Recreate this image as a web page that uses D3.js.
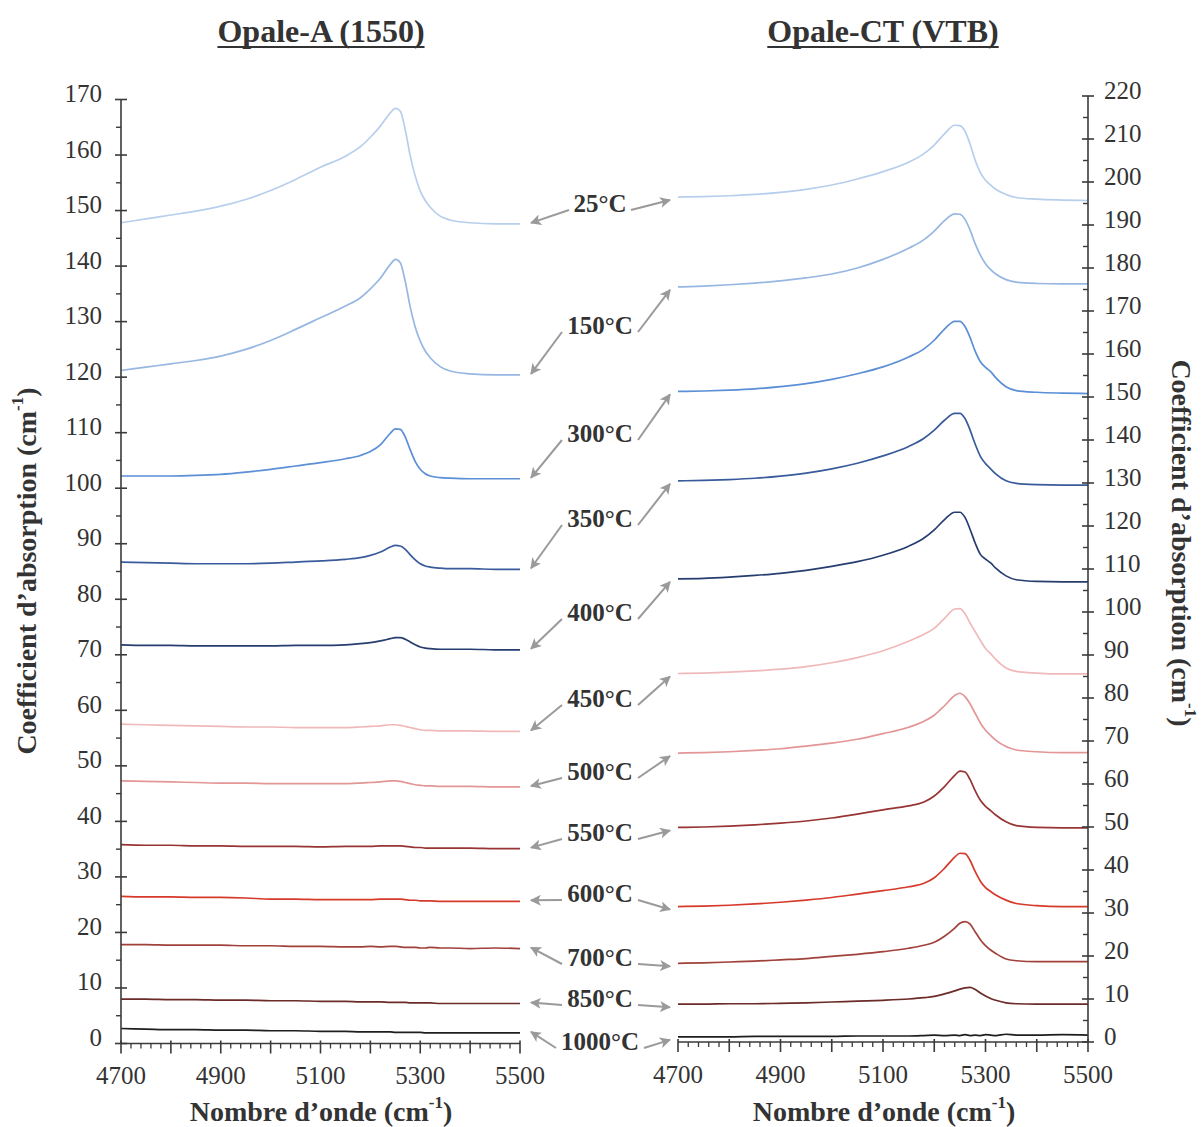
<!DOCTYPE html>
<html><head><meta charset="utf-8">
<script src="https://cdn.jsdelivr.net/npm/d3@7"></script>
<style>html,body{margin:0;padding:0;background:#fff;}svg{display:block;}</style>
</head><body>
<svg id="chart" width="1204" height="1127"></svg>
<script>
// ---------- DATA ----------
const wavenumbers = [4700,4750,4800,4850,4900,4950,5000,5050,5100,5150,5180,5200,5220,5240,5250,5260,5270,5280,5290,5300,5310,5320,5340,5360,5400,5450,5500];
const temperatures = ["25°C","150°C","300°C","350°C","400°C","450°C","500°C","550°C","600°C","700°C","850°C","1000°C"];
const xTickLabels = [4700,4900,5100,5300,5500];
const leftYTicks = d3.range(0,171,10);
const rightYTicks = d3.range(0,221,10);

// Opale-A (1550)
const a25  = [147.8,148.5,149.2,149.9,150.8,152.0,153.6,155.6,157.8,159.8,161.5,163.2,165.2,167.6,168.4,167.9,164.5,159.8,156.2,153.5,151.8,150.6,149.0,148.3,147.8,147.6,147.6];
const a150 = [121.2,121.8,122.4,123.0,123.8,125.0,126.6,128.6,130.7,132.8,134.3,135.9,137.8,140.3,141.2,140.6,137.2,132.6,129.0,126.5,124.7,123.5,121.9,121.1,120.6,120.4,120.4];
const a300 = [102.2,102.2,102.2,102.3,102.5,102.9,103.4,104.0,104.6,105.3,105.9,106.6,107.8,109.9,110.7,110.6,109.2,106.9,104.8,103.4,102.6,102.2,101.9,101.8,101.7,101.7,101.7];
const a350 = [86.7,86.6,86.5,86.4,86.4,86.4,86.5,86.7,86.9,87.2,87.5,87.9,88.5,89.4,89.7,89.6,89.0,88.0,87.1,86.4,86.0,85.8,85.6,85.5,85.5,85.4,85.4];
const a400 = [71.8,71.7,71.7,71.6,71.6,71.6,71.6,71.7,71.7,71.8,72.0,72.2,72.5,72.9,73.1,73.1,72.8,72.3,71.8,71.4,71.2,71.1,71.0,71.0,71.0,70.9,70.9];
const a450 = [57.5,57.4,57.3,57.2,57.1,57.0,57.0,56.9,56.9,56.9,57.0,57.1,57.2,57.4,57.4,57.3,57.1,56.9,56.7,56.5,56.4,56.4,56.3,56.3,56.3,56.2,56.2];
const a500 = [47.3,47.2,47.1,47.0,46.9,46.9,46.8,46.8,46.8,46.8,46.9,47.0,47.1,47.3,47.3,47.2,47.0,46.8,46.6,46.5,46.4,46.4,46.3,46.3,46.3,46.2,46.2];
const a550 = [35.8,35.7,35.7,35.6,35.6,35.5,35.5,35.5,35.4,35.5,35.5,35.5,35.6,35.6,35.6,35.6,35.5,35.4,35.3,35.3,35.2,35.2,35.2,35.2,35.2,35.1,35.1];
const a600 = [26.5,26.4,26.4,26.3,26.3,26.2,26.0,26.0,25.9,25.9,25.9,25.9,26.0,26.0,26.0,26.0,25.9,25.8,25.8,25.7,25.7,25.7,25.6,25.6,25.6,25.6,25.6];
const a700 = [17.8,17.8,17.7,17.7,17.7,17.6,17.6,17.5,17.5,17.4,17.4,17.5,17.4,17.5,17.5,17.4,17.3,17.3,17.3,17.2,17.2,17.3,17.2,17.2,17.1,17.2,17.1];
const a850 = [8.0,8.0,7.9,7.9,7.8,7.8,7.7,7.7,7.6,7.6,7.5,7.5,7.5,7.4,7.4,7.4,7.4,7.3,7.3,7.3,7.3,7.3,7.2,7.2,7.2,7.2,7.2];
const a1000= [2.7,2.6,2.5,2.5,2.4,2.4,2.3,2.3,2.2,2.2,2.1,2.1,2.1,2.1,2.0,2.0,2.0,2.0,2.0,2.0,1.9,1.9,1.9,1.9,1.9,1.9,1.9];

// Opale-CT (VTB)
const c25  = [196.5,196.6,196.8,197.1,197.6,198.3,199.3,200.7,202.4,204.6,206.6,208.6,211.2,213.2,213.1,211.8,208.8,205.0,202.2,200.4,199.3,198.3,197.1,196.4,196.0,195.8,195.7];
const c150 = [175.6,175.8,176.1,176.5,177.0,177.7,178.6,180.0,182.0,184.6,186.6,188.6,191.0,192.6,192.5,191.3,188.8,185.6,183.0,181.0,179.6,178.6,177.3,176.7,176.4,176.3,176.3];
const c300 = [151.3,151.4,151.6,151.9,152.4,153.1,154.1,155.4,157.0,159.3,161.2,163.2,165.8,167.6,167.6,166.4,163.8,160.6,158.2,156.9,155.9,154.5,152.4,151.5,151.1,150.9,150.8];
const c350 = [130.5,130.6,130.8,131.1,131.6,132.3,133.3,134.6,136.3,138.5,140.4,142.3,144.6,146.2,146.2,145.0,142.3,139.0,136.2,134.5,133.3,132.1,130.5,129.9,129.6,129.5,129.5];
const c400 = [107.7,107.8,108.1,108.5,109.0,109.7,110.6,111.7,113.2,115.3,117.2,119.1,121.5,123.2,123.2,122.0,119.2,116.0,113.4,112.3,111.4,110.2,108.4,107.5,107.1,107.0,107.0];
const c450 = [85.7,85.8,86.0,86.3,86.7,87.3,88.2,89.4,91.0,93.2,94.8,96.2,98.5,100.7,100.8,99.6,97.4,95.4,93.4,91.5,90.3,89.0,87.0,86.2,85.8,85.6,85.6];
const c500 = [67.2,67.3,67.5,67.8,68.2,68.8,69.5,70.4,71.7,73.2,74.6,76.0,78.2,80.6,81.1,80.3,78.6,76.4,74.2,72.5,71.3,70.2,68.7,67.9,67.5,67.3,67.3];
const c550 = [49.9,50.0,50.2,50.5,50.9,51.4,52.1,53.0,54.0,54.9,55.8,57.2,59.4,62.0,63.0,62.8,61.0,58.4,56.2,54.8,53.8,52.8,51.2,50.3,49.9,49.8,49.8];
const c600 = [31.5,31.6,31.8,32.1,32.5,33.0,33.6,34.4,35.2,36.1,36.9,38.2,40.4,43.0,43.9,43.8,42.2,39.6,37.4,35.9,35.0,34.2,33.0,32.2,31.7,31.5,31.5];
const c700 = [18.3,18.4,18.6,18.8,19.1,19.4,19.9,20.4,21.0,21.8,22.5,23.2,24.6,26.5,27.6,28.0,27.4,25.6,23.8,22.4,21.4,20.6,19.3,18.9,18.7,18.7,18.7];
const c850 = [8.8,8.8,8.9,8.9,9.0,9.1,9.3,9.5,9.7,10.0,10.3,10.6,11.2,11.9,12.3,12.6,12.7,12.2,11.4,10.7,10.1,9.7,9.1,8.9,8.8,8.8,8.8];
const c1000= [1.2,1.2,1.2,1.3,1.3,1.3,1.3,1.4,1.4,1.4,1.5,1.6,1.5,1.6,1.5,1.7,1.5,1.6,1.5,1.7,1.6,1.5,1.8,1.6,1.6,1.7,1.6];

const colors = ["#b7cfec","#97b7e2","#5b8fd6","#3a5b9b","#263d70","#f0b9b9","#e39696","#983434","#d63a2b","#a1413b","#6b2b29","#1e1e1e"];

const seriesA = [a25,a150,a300,a350,a400,a450,a500,a550,a600,a700,a850,a1000];
const seriesC = [c25,c150,c300,c350,c400,c450,c500,c550,c600,c700,c850,c1000];

// ---------- LAYOUT ----------
const svg = d3.select("#chart");
const serif = "'Liberation Serif','Times New Roman',serif";
const axisColor = "#3a3a3a";

const xL = d3.scaleLinear().domain([4700,5500]).range([121,520]);
const yL = d3.scaleLinear().domain([0,170]).range([1043.5,99.5]);
const xR = d3.scaleLinear().domain([4700,5500]).range([678,1088]);
const yR = d3.scaleLinear().domain([0,220]).range([1042,96]);

// ---------- CURVES ----------
function drawSeries(list, xs, ys) {
  const line = d3.line().x((d,i)=>xs(wavenumbers[i])).y(d=>ys(d)).curve(d3.curveMonotoneX);
  svg.append("g").selectAll("path").data(list).join("path")
    .attr("d", d=>line(d)).attr("fill","none")
    .attr("stroke",(d,i)=>colors[i]).attr("stroke-width",1.7).attr("stroke-linejoin","round");
}
drawSeries(seriesA, xL, yL);
drawSeries(seriesC, xR, yR);

// ---------- AXES ----------
function drawYAxis(ys, xPos, ticks, maxV, side) {
  const g = svg.append("g");
  g.append("line").attr("x1",xPos).attr("x2",xPos).attr("y1",ys(maxV)).attr("y2",ys(0))
    .attr("stroke",axisColor).attr("stroke-width",1.6);
  g.selectAll(".maj").data(ticks).join("line")
    .attr("x1",xPos-6).attr("x2",xPos+6).attr("y1",d=>ys(d)).attr("y2",d=>ys(d))
    .attr("stroke",axisColor).attr("stroke-width",1.6);
  const minors = d3.range(5,maxV,10);
  g.selectAll(".min").data(minors).join("line")
    .attr("x1",xPos-5).attr("x2",xPos).attr("y1",d=>ys(d)).attr("y2",d=>ys(d))
    .attr("stroke",axisColor).attr("stroke-width",1.4);
  g.selectAll("text").data(ticks).join("text")
    .attr("x", side==="left" ? xPos-19 : xPos+16)
    .attr("y", d=>ys(d)-6)
    .attr("dominant-baseline","central")
    .attr("text-anchor", side==="left" ? "end" : "start")
    .attr("font-family",serif).attr("font-size",25).attr("fill","#333")
    .text(d=>d);
}
drawYAxis(yL, 121, leftYTicks, 170, "left");
drawYAxis(yR, 1088, rightYTicks, 220, "right");

function drawXAxis(xs, yPos) {
  const g = svg.append("g");
  g.append("line").attr("x1",xs(4700)).attr("x2",xs(5500)).attr("y1",yPos).attr("y2",yPos)
    .attr("stroke",axisColor).attr("stroke-width",1.6);
  g.selectAll(".maj").data(d3.range(4700,5501,100)).join("line")
    .attr("x1",d=>xs(d)).attr("x2",d=>xs(d)).attr("y1",yPos-3).attr("y2",yPos+10)
    .attr("stroke",axisColor).attr("stroke-width",1.6);
  g.selectAll(".min").data(d3.range(4720,5500,20).filter(d=>d%100!==0)).join("line")
    .attr("x1",d=>xs(d)).attr("x2",d=>xs(d)).attr("y1",yPos).attr("y2",yPos+5)
    .attr("stroke",axisColor).attr("stroke-width",1.3);
  g.selectAll("text").data(xTickLabels).join("text")
    .attr("x",d=>xs(d)).attr("y",yPos+32).attr("dominant-baseline","central")
    .attr("text-anchor","middle").attr("font-family",serif).attr("font-size",25).attr("fill","#333")
    .text(d=>d);
}
drawXAxis(xL, 1043.5);
drawXAxis(xR, 1042);

// ---------- TITLES ----------
function title(text, cx, cy) {
  const t = svg.append("text").attr("x",cx).attr("y",cy).attr("text-anchor","middle")
    .attr("dominant-baseline","central").attr("font-family",serif).attr("font-weight","bold")
    .attr("font-size",32).attr("fill","#333").text(text);
  const w = t.node().getComputedTextLength();
  svg.append("line").attr("x1",cx-w/2).attr("x2",cx+w/2).attr("y1",cy+16).attr("y2",cy+16)
    .attr("stroke","#333").attr("stroke-width",2.2);
}
title("Opale-A (1550)", 321, 31);
title("Opale-CT (VTB)", 883, 31);

function unitTitle(g, base) {
  const t = g.append("text").attr("font-family",serif).attr("font-weight","bold")
    .attr("font-size",28).attr("fill","#333").attr("text-anchor","middle")
    .attr("dominant-baseline","central");
  t.append("tspan").text(base + " (cm");
  t.append("tspan").attr("font-size",17).attr("dy",-9).text("-1");
  t.append("tspan").attr("dy",9).text(")");
  return t;
}
unitTitle(svg.append("g").attr("transform","translate(321,1111)"), "Nombre d\u2019onde");
unitTitle(svg.append("g").attr("transform","translate(884,1111)"), "Nombre d\u2019onde");
unitTitle(svg.append("g").attr("transform","translate(26,571) rotate(-90)"), "Coefficient d\u2019absorption");
unitTitle(svg.append("g").attr("transform","translate(1182,543) rotate(90)"), "Coefficient d\u2019absorption");

// ---------- TEMPERATURE LABELS & ARROWS ----------
const labelY = [203,325,433,518,612,698,771,832,893,957,998,1041];
svg.append("defs").append("marker").attr("id","ah").attr("viewBox","0 0 10 10")
  .attr("refX",9).attr("refY",5).attr("markerWidth",5.5).attr("markerHeight",5.5)
  .attr("orient","auto").attr("markerUnits","strokeWidth")
  .append("path").attr("d","M0,0 L10,5 L0,10 L2.5,5 Z").attr("fill","#9a9a9a");

const lab = svg.append("g");
temperatures.forEach((t,i)=>{
  const ly = labelY[i];
  lab.append("text").attr("x",600).attr("y",ly).attr("text-anchor","middle")
    .attr("dominant-baseline","central").attr("font-family",serif).attr("font-weight","bold")
    .attr("font-size",25).attr("fill","#333").text(t);
  const aEnd = seriesA[i][seriesA[i].length-1];
  const cStart = seriesC[i][0];
  const w = t.length > 5 ? 44 : (t.length > 4 ? 38 : 31);
  lab.append("line").attr("x1",600-w).attr("y1",ly+7).attr("x2",531).attr("y2",yL(aEnd)-1)
    .attr("stroke","#9a9a9a").attr("stroke-width",2).attr("marker-end","url(#ah)");
  lab.append("line").attr("x1",600+w).attr("y1",ly+7).attr("x2",670).attr("y2",yR(cStart)+3)
    .attr("stroke","#9a9a9a").attr("stroke-width",2).attr("marker-end","url(#ah)");
});
</script>
</body></html>
